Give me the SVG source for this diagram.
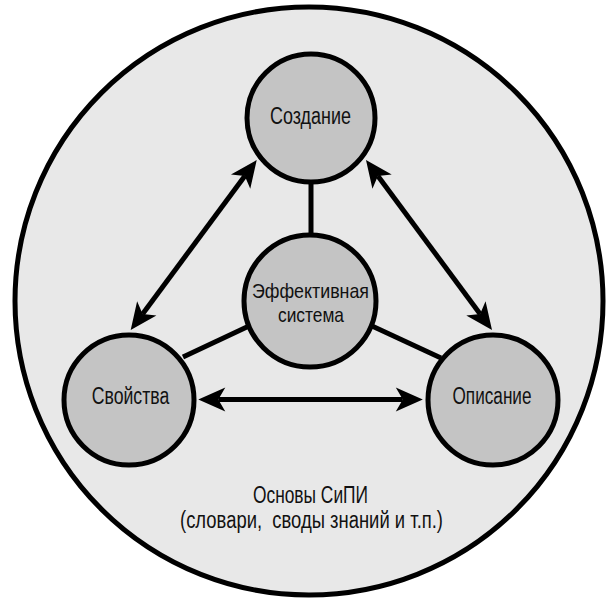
<svg xmlns="http://www.w3.org/2000/svg" width="607" height="601" viewBox="0 0 607 601">
<style>
.bg{fill:#e8e8e8;stroke:#000;stroke-width:5}
.node{fill:#c4c4c4;stroke:#000;stroke-width:5}
.lbl{font-family:"Liberation Sans",Arial,sans-serif;font-size:23px;fill:#111;text-anchor:middle;white-space:pre}
.sm{font-size:21px}
.link{stroke:#000;stroke-width:5;fill:none}
.arr{stroke:#000;stroke-width:5;fill:none;marker-start:url(#ah);marker-end:url(#ah)}
</style>
<defs>
<marker id="ah" markerUnits="userSpaceOnUse" viewBox="-28 -13 30 26" refX="-20" refY="0" markerWidth="30" markerHeight="26" orient="auto-start-reverse">
<path d="M0,0 L-27,-12 L-20,0 L-27,12 Z" fill="#000"/>
</marker>
</defs>
<g id="base">
<circle class="bg" cx="309" cy="301" r="294"/>
<text class="lbl" x="310.5" y="503" textLength="115" lengthAdjust="spacingAndGlyphs">Основы СиПИ</text>
<text class="lbl" x="311.5" y="528" xml:space="preserve" textLength="263" lengthAdjust="spacingAndGlyphs">(словари,  своды знаний и т.п.)</text>
</g>
<g id="connectors">
<line class="link" x1="311" y1="182" x2="311" y2="237"/>
<line class="link" x1="249" y1="326" x2="183" y2="357"/>
<line class="link" x1="372" y1="326" x2="441" y2="358"/>
<line class="arr" x1="244.8" y1="176.1" x2="142.6" y2="313.9"/>
<line class="arr" x1="377.9" y1="176.1" x2="480.1" y2="313.9"/>
<line class="arr" x1="218.3" y1="399.5" x2="402.8" y2="399.5"/>
</g>
<g id="n-sozdanie">
<circle class="node" cx="311" cy="118" r="64"/>
<text class="lbl" x="310.5" y="123.5" textLength="81" lengthAdjust="spacingAndGlyphs">Создание</text>
</g>
<g id="n-center">
<circle class="node" cx="310" cy="301" r="66"/>
<text class="lbl sm" x="310.5" y="298" textLength="117" lengthAdjust="spacingAndGlyphs">Эффективная</text>
<text class="lbl sm" x="311" y="322" textLength="66" lengthAdjust="spacingAndGlyphs">система</text>
</g>
<g id="n-svoistva">
<circle class="node" cx="129" cy="400" r="65"/>
<text class="lbl" x="130.5" y="404" textLength="77.5" lengthAdjust="spacingAndGlyphs">Свойства</text>
</g>
<g id="n-opisanie">
<circle class="node" cx="493" cy="400" r="65"/>
<text class="lbl" x="492" y="404" textLength="79" lengthAdjust="spacingAndGlyphs">Описание</text>
</g>
</svg>
